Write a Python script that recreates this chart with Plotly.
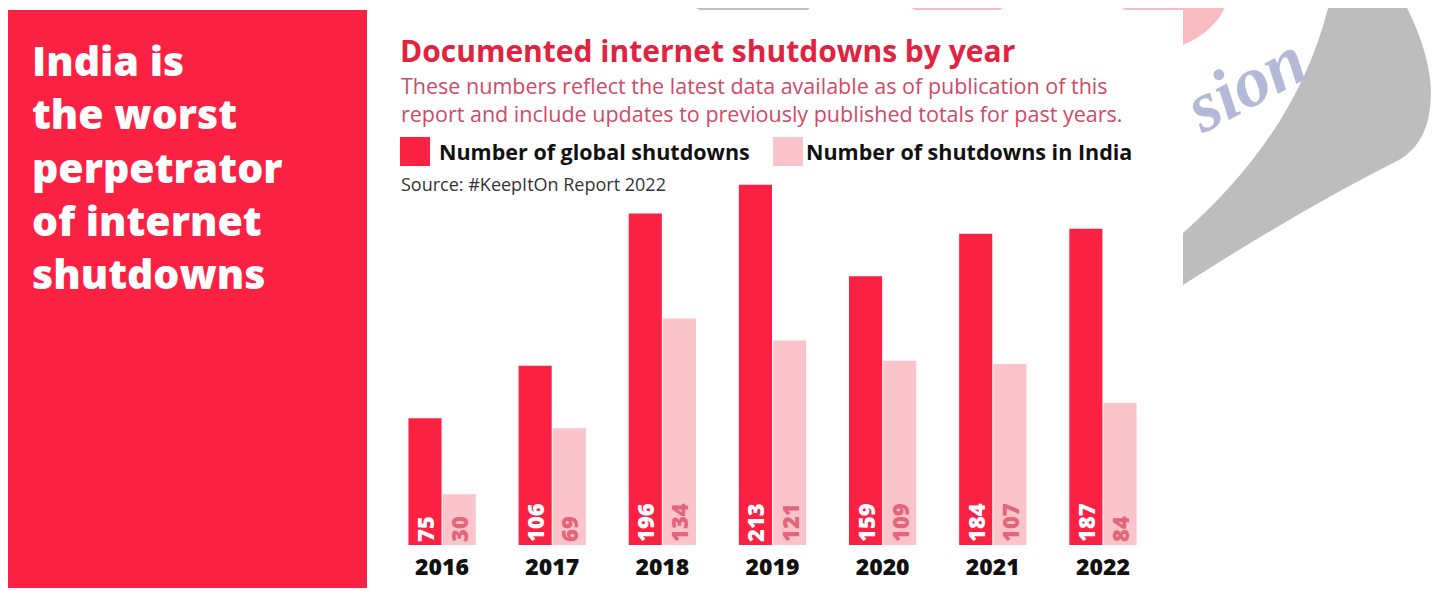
import plotly.graph_objects as go

years = ["2016", "2017", "2018", "2019", "2020", "2021", "2022"]
global_shutdowns = [75, 106, 196, 213, 159, 184, 187]
india_shutdowns = [30, 69, 134, 121, 109, 107, 84]

RED = "#fb2143"
PINK = "#fbc3ca"
FONT = "Open Sans"

W, H = 1445, 591
OX, OY = 8, 8  # page body offset
# target plot area in page pixels: x 387..1158, y 173..545
L, T = 387 - OX, 173 - OY
PW, PH = 771, 372
R, B = W - L - PW, H - T - PH


def px(x):
    return (x - OX - L) / PW


def py(y):
    return (T + PH - (y - OY)) / PH


fig = go.Figure()
fig.add_trace(go.Bar(
    x=years, y=global_shutdowns, name="Number of global shutdowns",
    marker=dict(color=RED, line=dict(width=0)),
    text=[str(v) for v in global_shutdowns], textposition="inside",
    insidetextanchor="start", textangle=-90,
    textfont=dict(family=FONT, size=22, color="white", weight=800),
))
fig.add_trace(go.Bar(
    x=years, y=india_shutdowns, name="Number of shutdowns in India",
    marker=dict(color=PINK, line=dict(width=0)),
    text=[str(v) for v in india_shutdowns], textposition="inside",
    insidetextanchor="start", textangle=-90,
    textfont=dict(family=FONT, size=22, color="#e46479", weight=800),
))

shapes = []
# watermark shapes
shapes.append(dict(type="path", xref="paper", yref="paper", layer="below",
                   path=f"M {px(1330)},{py(0)} L {px(1403)},{py(0)} "
                        f"Q {px(1440)},{py(70)} {px(1428)},{py(120)} "
                        f"Q {px(1420)},{py(150)} {px(1395)},{py(162)} "
                        f"Q {px(1300)},{py(210)} {px(1183)},{py(285)} "
                        f"L {px(1183)},{py(233)} "
                        f"Q {px(1300)},{py(130)} {px(1330)},{py(0)} Z",
                   fillcolor="#bdbdbd", line=dict(width=0)))
shapes.append(dict(type="path", xref="paper", yref="paper", layer="below",
                   path=f"M {px(680)},{py(0)} L {px(815)},{py(0)} L {px(808)},{py(10)} "
                        f"L {px(700)},{py(10)} Z",
                   fillcolor="#bdbdbd", line=dict(width=0)))
shapes.append(dict(type="path", xref="paper", yref="paper", layer="below",
                   path=f"M {px(895)},{py(0)} L {px(1015)},{py(0)} L {px(1000)},{py(10)} "
                        f"L {px(915)},{py(10)} Z",
                   fillcolor="#f8bcc2", line=dict(width=0)))
shapes.append(dict(type="path", xref="paper", yref="paper", layer="below",
                   path=f"M {px(1110)},{py(0)} L {px(1228)},{py(0)} "
                        f"Q {px(1218)},{py(30)} {px(1183)},{py(45)} "
                        f"L {px(1183)},{py(10)} L {px(1125)},{py(10)} Z",
                   fillcolor="#f8bcc2", line=dict(width=0)))
# white chart card
shapes.append(dict(type="rect", xref="paper", yref="paper", layer="below",
                   x0=px(367), x1=px(1183), y0=py(588), y1=py(10),
                   fillcolor="white", line=dict(width=0)))
# left red panel
shapes.append(dict(type="rect", xref="paper", yref="paper", layer="below",
                   x0=px(8), x1=px(367), y0=py(588), y1=py(10),
                   fillcolor=RED, line=dict(width=0)))
# legend squares
shapes.append(dict(type="rect", xref="paper", yref="paper",
                   x0=px(400), x1=px(430), y0=py(166), y1=py(137),
                   fillcolor=RED, line=dict(width=0)))
shapes.append(dict(type="rect", xref="paper", yref="paper",
                   x0=px(773), x1=px(803), y0=py(166), y1=py(137),
                   fillcolor=PINK, line=dict(width=0)))

annotations = []
headline = ["India is", "the worst", "perpetrator", "of internet", "shutdowns"]
annotations.append(dict(text="<br>".join(headline), xref="paper", yref="paper",
                        x=px(30), y=py(166), xanchor="left", yanchor="middle", align="left",
                        showarrow=False,
                        font=dict(family=FONT, size=41, color="white", weight=800)))

annotations.append(dict(text="Documented internet shutdowns by year", xref="paper", yref="paper",
                        x=px(398), y=py(50), xanchor="left", yanchor="middle", showarrow=False,
                        font=dict(family=FONT, size=30, color="#e2223f", weight="bold")))
annotations.append(dict(text="These numbers reflect the latest data available as of publication of this<br>"
                             "report and include updates to previously published totals for past years.",
                        xref="paper", yref="paper", x=px(399), y=py(99.5), xanchor="left", yanchor="middle",
                        align="left", showarrow=False,
                        font=dict(family=FONT, size=21.5, color="#cf4a66")))
annotations.append(dict(text="Number of global shutdowns", xref="paper", yref="paper",
                        x=px(437), y=py(151), xanchor="left", yanchor="middle", showarrow=False,
                        font=dict(family=FONT, size=21.5, color="#111111", weight="bold")))
annotations.append(dict(text="Number of shutdowns in India", xref="paper", yref="paper",
                        x=px(804), y=py(151), xanchor="left", yanchor="middle", showarrow=False,
                        font=dict(family=FONT, size=21.5, color="#111111", weight="bold")))
annotations.append(dict(text="Source: #KeepItOn Report 2022", xref="paper", yref="paper",
                        x=px(399), y=py(184), xanchor="left", yanchor="middle", showarrow=False,
                        font=dict(family=FONT, size=18, color="#333333")))
annotations.append(dict(text="sion", xref="paper", yref="paper",
                        x=px(1245), y=py(84), xanchor="center", yanchor="middle", showarrow=False,
                        textangle=-28,
                        font=dict(family="Liberation Serif", size=72, color="#b3b9d6",
                                  style="italic", weight="bold")))

fig.update_layout(
    width=W, height=H,
    margin=dict(l=L, r=R, t=T, b=B, pad=0),
    paper_bgcolor="white", plot_bgcolor="rgba(0,0,0,0)",
    barmode="group", bargap=0.38, bargroupgap=0.03,
    showlegend=False,
    uniformtext=dict(minsize=22, mode="show"),
    shapes=shapes, annotations=annotations,
    xaxis=dict(type="category", showgrid=False, zeroline=False, showline=False,
               ticks="outside", ticklen=1, tickcolor="rgba(0,0,0,0)",
               tickfont=dict(family=FONT, size=23, color="#111111", weight=800)),
    yaxis=dict(range=[0, 220], visible=False),
)

fig.write_html("out.html")
